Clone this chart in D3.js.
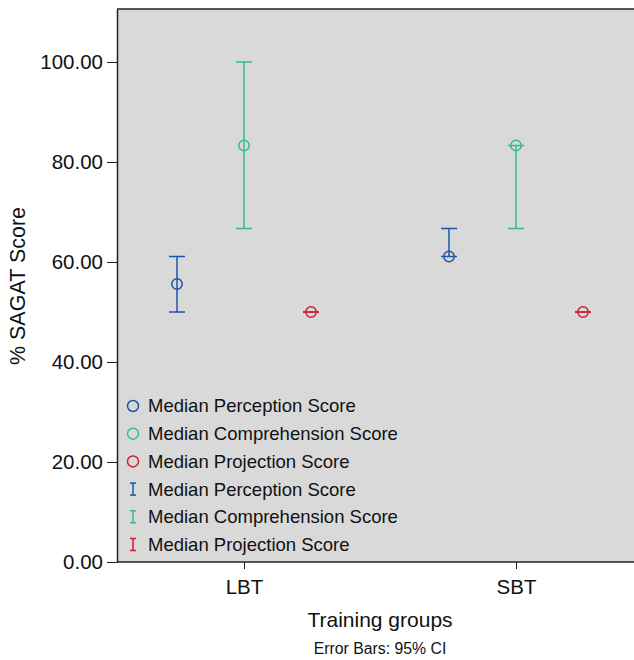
<!DOCTYPE html>
<html>
<head>
<meta charset="utf-8">
<script src="https://cdn.jsdelivr.net/npm/d3@7"></script>
<style>
  body { margin: 0; background: #fff; }
  text { font-family: "Liberation Sans", Arial, sans-serif; fill: #111; }
</style>
</head>
<body>
<div id="chart"></div>
<script>
var groups = ["LBT", "SBT"];
var seriesNames = ["Median Perception Score", "Median Comprehension Score", "Median Projection Score"];
var seriesColors = ["#1f55a3", "#35b98f", "#cf1f33"];
var medians = [[55.6, 83.3, 50.0], [61.1, 83.3, 50.0]];
var ciLow = [[50.0, 66.7, 50.0], [61.1, 66.7, 50.0]];
var ciHigh = [[61.1, 100.0, 50.0], [66.7, 83.3, 50.0]];
var yTicks = [0, 20, 40, 60, 80, 100];

function drawChart(){
    var margin = {top: 9, right: 0, bottom: 98, left: 117};
    var width = 634 - margin.left - margin.right;
    var height = 660 - margin.top - margin.bottom;

    var svg = d3.select("#chart").append("svg")
    .attr("width", 634)
    .attr("height", 660)
    .append("g")
    .attr("transform", "translate(" + margin.left + "," + margin.top + ")");

    var xScale = d3.scalePoint()
    .domain(groups)
    .range([127, 399]);

    var offset = d3.scalePoint()
    .domain(seriesNames)
    .range([-67, 67]);

    var yScale = d3.scaleLinear()
    .domain([0, 110.6])
    .range([height, 0]);

    svg.append("rect")
    .attr("width", width)
    .attr("height", height)
    .attr("fill", "#d9d9d9");

    svg.append("line")
    .attr("x1", 0).attr("x2", width)
    .attr("y1", 0).attr("y2", 0)
    .attr("stroke", "#222").attr("stroke-width", 1.5);

    var yAxis = svg.append("g")
    .call(d3.axisLeft(yScale).tickValues(yTicks).tickFormat(d3.format(".2f")).tickSize(10).tickSizeOuter(0));
    yAxis.select(".domain").attr("stroke", "#222").attr("stroke-width", 1.5);
    yAxis.selectAll(".tick line").attr("stroke", "#222");
    yAxis.selectAll("text").style("font-size", "20.5px").attr("x", -14).attr("fill", "#111");

    var xAxis = svg.append("g")
    .attr("transform", "translate(0," + height + ")")
    .call(d3.axisBottom(xScale).tickSize(7).tickSizeOuter(0));
    xAxis.select(".domain").attr("stroke", "#222").attr("stroke-width", 1.5)
    .attr("d", "M0,0H" + width);
    xAxis.selectAll(".tick line").attr("stroke", "#222");
    xAxis.selectAll("text").style("font-size", "20.5px").attr("y", 17).attr("fill", "#111");

    var points = [];
    groups.forEach(function(g, gi){
        seriesNames.forEach(function(s, si){
            points.push({group: g, series: s, color: seriesColors[si],
                med: medians[gi][si], lo: ciLow[gi][si], hi: ciHigh[gi][si]});
        });
    });

    var cx = function(d){ return xScale(d.group) + offset(d.series); };

    var marks = svg.selectAll(".pt").data(points).enter().append("g")
    .attr("class", "pt");

    marks.append("line")
    .attr("x1", cx).attr("x2", cx)
    .attr("y1", function(d){ return yScale(d.lo); })
    .attr("y2", function(d){ return yScale(d.hi); })
    .attr("stroke", function(d){ return d.color; })
    .attr("stroke-width", 1.5);

    ["lo", "hi"].forEach(function(k){
        marks.append("line")
        .attr("x1", function(d){ return cx(d) - 8; })
        .attr("x2", function(d){ return cx(d) + 8; })
        .attr("y1", function(d){ return yScale(d[k]); })
        .attr("y2", function(d){ return yScale(d[k]); })
        .attr("stroke", function(d){ return d.color; })
        .attr("stroke-width", 1.5);
    });

    marks.append("circle")
    .attr("cx", cx)
    .attr("cy", function(d){ return yScale(d.med); })
    .attr("r", 5.2)
    .attr("fill", "none")
    .attr("stroke", function(d){ return d.color; })
    .attr("stroke-width", 1.5);

    // legend
    var legendItems = [];
    seriesNames.forEach(function(s, i){ legendItems.push({name: s, color: seriesColors[i], kind: "circle"}); });
    seriesNames.forEach(function(s, i){ legendItems.push({name: s, color: seriesColors[i], kind: "bar"}); });

    var legend = svg.selectAll(".leg").data(legendItems).enter().append("g")
    .attr("class", "leg")
    .attr("transform", function(d, i){ return "translate(16," + (397 + i * 27.7) + ")"; });

    legend.filter(function(d){ return d.kind == "circle"; }).append("circle")
    .attr("r", 5.5)
    .attr("fill", "none")
    .attr("stroke", function(d){ return d.color; })
    .attr("stroke-width", 1.5);

    var bars = legend.filter(function(d){ return d.kind == "bar"; });
    bars.append("line").attr("x1", 0).attr("x2", 0).attr("y1", -6).attr("y2", 6)
    .attr("stroke", function(d){ return d.color; }).attr("stroke-width", 1.5);
    bars.append("line").attr("x1", -3).attr("x2", 3).attr("y1", -6).attr("y2", -6)
    .attr("stroke", function(d){ return d.color; }).attr("stroke-width", 1.5);
    bars.append("line").attr("x1", -3).attr("x2", 3).attr("y1", 6).attr("y2", 6)
    .attr("stroke", function(d){ return d.color; }).attr("stroke-width", 1.5);

    legend.append("text")
    .attr("x", 15)
    .attr("dy", "0.35em")
    .style("font-size", "18.5px")
    .text(function(d){ return d.name; });

    var midX = (xScale(groups[0]) + xScale(groups[1])) / 2;

    svg.append("text")
    .attr("x", midX)
    .attr("y", height + 65)
    .style("text-anchor", "middle")
    .style("font-size", "21px")
    .text("Training groups");

    svg.append("text")
    .attr("x", midX)
    .attr("y", height + 92)
    .style("text-anchor", "middle")
    .style("font-size", "15.8px")
    .text("Error Bars: 95% CI");

    svg.append("text")
    .attr("transform", "rotate(-90)")
    .attr("x", -(286 - margin.top))
    .attr("y", -92)
    .style("text-anchor", "middle")
    .style("font-size", "21.5px")
    .text("% SAGAT Score");
}

drawChart();
</script>
</body>
</html>
